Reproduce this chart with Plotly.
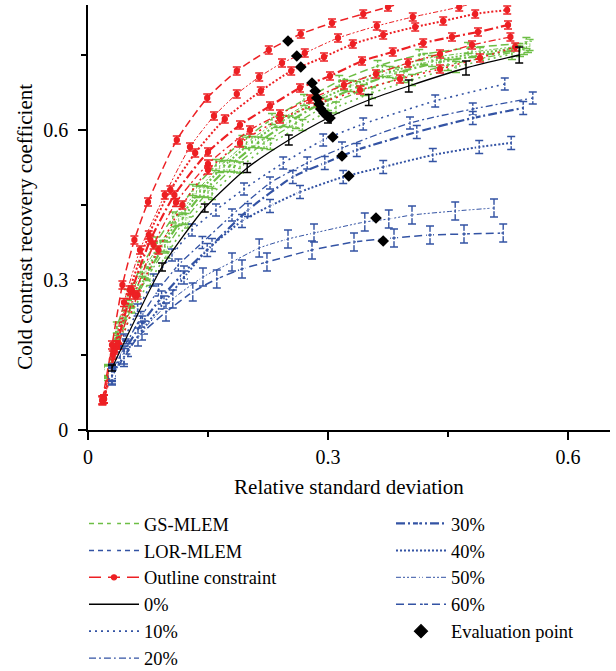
import plotly.graph_objects as go

FONT = "Liberation Serif"
RED = "#ED2024"
GREEN = "#6DBE45"
BLUE = "#3353A4"
BLACK = "#000000"

# ---------------- data ----------------
# 0 % (common curve)
p0_x = [0.03, 0.0925, 0.146, 0.199, 0.251, 0.3, 0.351, 0.401, 0.4725, 0.539]
p0_y = [0.124, 0.326, 0.444, 0.524, 0.58, 0.624, 0.66, 0.688, 0.724, 0.75]
p0_e = [0.006, 0.008, 0.008, 0.009, 0.01, 0.01, 0.011, 0.012, 0.014, 0.016]

# GS-MLEM (green)
g10_x = [0.025, 0.04, 0.058, 0.078, 0.1, 0.125, 0.155, 0.19, 0.228, 0.268, 0.31, 0.355, 0.405, 0.46, 0.53]
g10_y = [0.11, 0.175, 0.245, 0.3, 0.355, 0.415, 0.472, 0.525, 0.572, 0.61, 0.645, 0.674, 0.7, 0.726, 0.752]
g20_x = [0.025, 0.04, 0.057, 0.076, 0.098, 0.122, 0.15, 0.183, 0.22, 0.26, 0.3, 0.345, 0.395, 0.45, 0.54]
g20_y = [0.115, 0.185, 0.255, 0.31, 0.365, 0.422, 0.476, 0.527, 0.574, 0.614, 0.65, 0.68, 0.706, 0.73, 0.758]
g30_x = [0.025, 0.039, 0.055, 0.074, 0.095, 0.118, 0.145, 0.177, 0.213, 0.252, 0.292, 0.336, 0.385, 0.44, 0.545]
g30_y = [0.115, 0.19, 0.255, 0.312, 0.368, 0.423, 0.477, 0.528, 0.575, 0.617, 0.654, 0.686, 0.714, 0.736, 0.762]
g40_x = [0.025, 0.038, 0.053, 0.071, 0.091, 0.113, 0.14, 0.17, 0.205, 0.244, 0.284, 0.328, 0.377, 0.43, 0.49, 0.55]
g40_y = [0.115, 0.195, 0.26, 0.315, 0.368, 0.42, 0.478, 0.528, 0.576, 0.618, 0.656, 0.688, 0.716, 0.738, 0.754, 0.766]
g50_x = [0.025, 0.037, 0.051, 0.068, 0.087, 0.109, 0.135, 0.164, 0.198, 0.236, 0.276, 0.32, 0.368, 0.42, 0.48, 0.552]
g50_y = [0.118, 0.2, 0.262, 0.318, 0.365, 0.418, 0.476, 0.526, 0.574, 0.616, 0.654, 0.69, 0.718, 0.742, 0.756, 0.77]
g60_x = [0.025, 0.036, 0.05, 0.066, 0.085, 0.106, 0.131, 0.16, 0.193, 0.23, 0.27, 0.314, 0.362, 0.414, 0.475, 0.548]
g60_y = [0.12, 0.205, 0.27, 0.325, 0.375, 0.425, 0.48, 0.53, 0.578, 0.622, 0.66, 0.698, 0.728, 0.75, 0.764, 0.774]

# LOR-MLEM (blue)
b10_x = [0.03, 0.045, 0.062, 0.082, 0.105, 0.13, 0.16, 0.195, 0.244, 0.294, 0.344, 0.434, 0.521]
b10_y = [0.12, 0.18, 0.24, 0.3, 0.35, 0.4, 0.44, 0.482, 0.534, 0.58, 0.612, 0.658, 0.692]
b20_x = [0.03, 0.047, 0.066, 0.088, 0.113, 0.143, 0.18, 0.2275, 0.274, 0.3175, 0.4025, 0.481, 0.556]
b20_y = [0.115, 0.17, 0.225, 0.28, 0.33, 0.375, 0.43, 0.494, 0.534, 0.564, 0.614, 0.642, 0.664]
b30_x = [0.03, 0.048, 0.068, 0.092, 0.12, 0.155, 0.2, 0.256, 0.296, 0.336, 0.411, 0.481, 0.544]
b30_y = [0.112, 0.165, 0.215, 0.265, 0.315, 0.37, 0.44, 0.506, 0.534, 0.56, 0.596, 0.624, 0.644]
b40_x = [0.03, 0.05, 0.07, 0.095, 0.12, 0.149, 0.1925, 0.2275, 0.265, 0.319, 0.369, 0.431, 0.489, 0.529]
b40_y = [0.11, 0.16, 0.205, 0.255, 0.305, 0.36, 0.418, 0.448, 0.476, 0.506, 0.526, 0.55, 0.566, 0.574]
b50_x = [0.03, 0.045, 0.0675, 0.106, 0.1437, 0.18, 0.214, 0.25, 0.2825, 0.346, 0.376, 0.405, 0.459, 0.5075]
b50_y = [0.11, 0.15, 0.198, 0.262, 0.306, 0.336, 0.364, 0.382, 0.394, 0.416, 0.422, 0.43, 0.438, 0.444]
b60_x = [0.03, 0.045, 0.0625, 0.0975, 0.131, 0.161, 0.1925, 0.2237, 0.28, 0.3325, 0.3825, 0.4275, 0.47, 0.519]
b60_y = [0.108, 0.145, 0.186, 0.236, 0.276, 0.302, 0.322, 0.336, 0.36, 0.376, 0.384, 0.39, 0.392, 0.394]

# Outline constraint (red)
r10_x = [0.02, 0.04, 0.062, 0.088, 0.118, 0.15, 0.19, 0.24, 0.29, 0.34, 0.39, 0.44, 0.49, 0.534]
r10_y = [0.062, 0.17, 0.27, 0.36, 0.45, 0.52, 0.574, 0.622, 0.654, 0.68, 0.702, 0.722, 0.744, 0.766]
r20_x = [0.02, 0.038, 0.058, 0.082, 0.11, 0.15, 0.2025, 0.24, 0.2775, 0.32, 0.36, 0.4, 0.44, 0.48, 0.528]
r20_y = [0.062, 0.17, 0.27, 0.37, 0.455, 0.532, 0.6, 0.632, 0.662, 0.69, 0.712, 0.734, 0.752, 0.77, 0.786]
r30_x = [0.02, 0.036, 0.055, 0.078, 0.108, 0.15, 0.19, 0.2275, 0.265, 0.3025, 0.3425, 0.381, 0.419, 0.455, 0.4875, 0.525]
r30_y = [0.062, 0.17, 0.28, 0.38, 0.47, 0.556, 0.61, 0.648, 0.684, 0.708, 0.738, 0.756, 0.774, 0.786, 0.796, 0.81]
r40_x = [0.018, 0.033, 0.052, 0.076, 0.103, 0.134, 0.171, 0.216, 0.254, 0.295, 0.331, 0.369, 0.409, 0.444, 0.484, 0.524]
r40_y = [0.058, 0.16, 0.28, 0.39, 0.48, 0.554, 0.622, 0.678, 0.718, 0.746, 0.772, 0.79, 0.806, 0.818, 0.832, 0.84]
r50_x = [0.018, 0.031, 0.045, 0.065, 0.096, 0.1275, 0.1575, 0.186, 0.214, 0.2425, 0.271, 0.3125, 0.361, 0.406, 0.464, 0.5]
r50_y = [0.06, 0.15, 0.255, 0.36, 0.47, 0.566, 0.628, 0.672, 0.706, 0.734, 0.754, 0.784, 0.808, 0.826, 0.846, 0.862]
r60_x = [0.018, 0.03, 0.043, 0.058, 0.075, 0.111, 0.149, 0.186, 0.226, 0.266, 0.305, 0.344, 0.375, 0.41]
r60_y = [0.06, 0.17, 0.29, 0.38, 0.456, 0.58, 0.664, 0.718, 0.76, 0.792, 0.814, 0.832, 0.846, 0.862]

# Evaluation points
ev_x = [0.25, 0.261, 0.266, 0.28, 0.284, 0.286, 0.289, 0.291, 0.295, 0.299, 0.3025, 0.306, 0.3175, 0.326, 0.36, 0.369]
ev_y = [0.778, 0.748, 0.726, 0.694, 0.678, 0.664, 0.652, 0.642, 0.634, 0.628, 0.624, 0.586, 0.548, 0.508, 0.424, 0.378]

pct_labels = ["10%", "20%", "30%", "40%", "50%", "60%"]

# error-bar half lengths per family
green_err = 0.011
red_err = 0.008
blue_err = [0.012, 0.012, 0.013, 0.013, 0.018, 0.018]

# ---------------- styles ----------------
DASH = {
    "10%": ("2px,4px", 1.6),
    "20%": ("7px,3px,2px,3px", 1.3),
    "30%": ("9px,3px,2px,3px", 2.2),
    "40%": ("2px,2px", 2.0),
    "50%": ("5px,2px,2px,2px,2px,2px", 1.0),
    "60%": ("8px,4px", 1.5),
}

green = [(g10_x, g10_y), (g20_x, g20_y), (g30_x, g30_y), (g40_x, g40_y), (g50_x, g50_y), (g60_x, g60_y)]
blue = [(b10_x, b10_y), (b20_x, b20_y), (b30_x, b30_y), (b40_x, b40_y), (b50_x, b50_y), (b60_x, b60_y)]
red = [(r10_x, r10_y), (r20_x, r20_y), (r30_x, r30_y), (r40_x, r40_y), (r50_x, r50_y), (r60_x, r60_y)]

fig = go.Figure()


def add_curve(xs, ys, color, pct, symbol, fill, err):
    dash, w = DASH[pct]
    fig.add_trace(go.Scatter(
        x=xs, y=ys, mode="lines+markers", showlegend=False,
        line=dict(color=color, width=w, dash=dash, shape="spline", smoothing=0.6),
        marker=dict(symbol=symbol, size=5, color=fill, line=dict(color=color, width=1.3)),
        error_y=dict(type="constant", value=err, color=color, thickness=1.4, width=4),
    ))


for (xs, ys), pct in zip(green, pct_labels):
    add_curve(xs, ys, GREEN, pct, "square-open", "white", green_err)
for (xs, ys), pct in zip(red, pct_labels):
    add_curve(xs, ys, RED, pct, "circle", RED, red_err)
for (xs, ys), pct, e in zip(blue, pct_labels, blue_err):
    add_curve(xs, ys, BLUE, pct, "circle-open", "white", e)

fig.add_trace(go.Scatter(
    x=p0_x, y=p0_y, mode="lines", showlegend=False,
    line=dict(color=BLACK, width=1.3, shape="spline", smoothing=0.6),
    error_y=dict(type="data", array=p0_e, color=BLACK, thickness=1.4, width=4),
))
fig.add_trace(go.Scatter(
    x=ev_x, y=ev_y, mode="markers", showlegend=False,
    marker=dict(symbol="diamond", size=9, color=BLACK),
))


# ---------------- legend entries ----------------
def leg(name, color, dash, width, symbol, fill, which, msize=5, mode="lines+markers"):
    fig.add_trace(go.Scatter(
        x=[None], y=[None], name=name, mode=mode, legend=which,
        line=dict(color=color, width=width, dash=dash),
        marker=dict(symbol=symbol, size=msize, color=fill, line=dict(color=color, width=1.3)),
    ))


leg("GS-MLEM", GREEN, "5px,4px", 1.5, "square-open", "white", "legend")
leg("LOR-MLEM", BLUE, "5px,4px", 1.5, "circle-open", "white", "legend")
leg("Outline constraint", RED, "12px,7px", 1.5, "circle", RED, "legend")
leg("0%", BLACK, "solid", 1.5, "circle", BLACK, "legend", mode="lines")
for i, pct in enumerate(pct_labels):
    d, w = DASH[pct]
    leg(pct, BLUE, d, w, "circle-open", "white", "legend" if i < 2 else "legend2")
leg("Evaluation point", BLACK, "solid", 1, "diamond", BLACK, "legend2", msize=10, mode="markers")

axis_common = dict(
    showgrid=False, zeroline=False, showline=True, linecolor="black", linewidth=1.5,
    ticks="outside", ticklen=8, tickwidth=1.5, tickcolor="black",
    tick0=0, dtick=0.3,
    minor=dict(ticks="outside", ticklen=5, tickwidth=1.5, tickcolor="black", tick0=0, dtick=0.15),
    tickfont=dict(family=FONT, size=20, color="black"),
)

fig.update_layout(
    width=616, height=671,
    margin=dict(l=88, r=6, t=5, b=241, autoexpand=False),
    plot_bgcolor="white", paper_bgcolor="white",
    font=dict(family=FONT, size=20, color="black"),
    xaxis=dict(range=[0, 0.6525], automargin=True,
               title=dict(text="Relative standard deviation", standoff=13, font=dict(family=FONT, size=21)),
               **axis_common),
    yaxis=dict(range=[0, 0.85], automargin=True, ticklabelstandoff=6, **axis_common),
    annotations=[dict(text="Cold contrast recovery coefficient", xref="paper", yref="paper",
                      x=(25 - 88) / 522, y=0.478, xanchor="center", yanchor="middle",
                      textangle=-90, showarrow=False, font=dict(family=FONT, size=21, color="black"))],
    legend=dict(x=84 / 616, y=1 - 505 / 671, xref="container", yref="container",
                xanchor="left", yanchor="top", itemwidth=50, traceorder="normal",
                font=dict(family=FONT, size=18.4), bgcolor="rgba(0,0,0,0)"),
    legend2=dict(x=391 / 616, y=1 - 505 / 671, xref="container", yref="container",
                 xanchor="left", yanchor="top", itemwidth=50, traceorder="normal",
                 font=dict(family=FONT, size=18.4), bgcolor="rgba(0,0,0,0)"),
    shapes=[dict(type="line", xref="x", yref="y", xsizemode="pixel", xanchor=0,
                 x0=-8, x1=0, y0=0, y1=0, line=dict(color="black", width=1.5))],
)

fig.write_html("out.html", config={"displayModeBar": False},
               post_script="document.body.style.margin='0px';")
